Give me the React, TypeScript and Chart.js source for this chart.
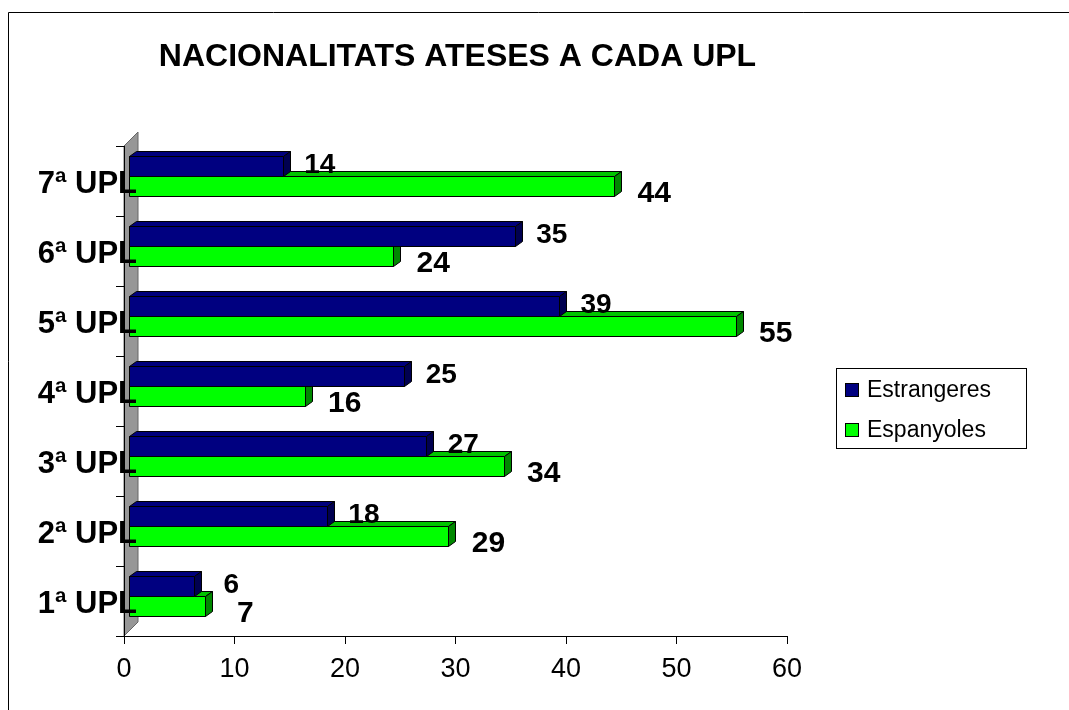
import React, { useEffect, useRef } from 'react';
import { Chart, registerables } from 'chart.js';

Chart.register(...registerables);

const TITLE = 'NACIONALITATS ATESES A CADA UPL';
const CATEGORIES = ['1ª UPL', '2ª UPL', '3ª UPL', '4ª UPL', '5ª UPL', '6ª UPL', '7ª UPL'];
const SERIES_NAMES = ['Estrangeres', 'Espanyoles'];
const ESTRANGERES = [6, 18, 27, 25, 39, 35, 14];
const ESPANYOLES = [7, 29, 34, 16, 55, 24, 44];
const X_MIN = 0;
const X_MAX = 60;
const X_STEP = 10;

const FONT = "'Liberation Sans', Arial, Helvetica, sans-serif";
const COLORS = [
  { front: '#000080', top: '#00007c', side: '#000050' },
  { front: '#00ff00', top: '#00c400', side: '#008800' },
];

const W = 1069;
const H = 710;
const DX = 7;
const DY = 5;
const SHIFT_X = 4;
const SHIFT_Y = -5;
const WALL = 14;

function poly(ctx: CanvasRenderingContext2D, pts: number[][], fill: string) {
  ctx.beginPath();
  ctx.moveTo(pts[0][0], pts[0][1]);
  for (let i = 1; i < pts.length; i++) ctx.lineTo(pts[i][0], pts[i][1]);
  ctx.closePath();
  ctx.fillStyle = fill;
  ctx.fill();
  ctx.stroke();
}

const threeDPlugin = {
  id: 'threeD',
  beforeDraw(chart: any) {
    const { ctx, chartArea: a } = chart;
    ctx.save();
    // outer frame
    ctx.strokeStyle = '#000';
    ctx.lineWidth = 1;
    ctx.beginPath();
    ctx.moveTo(8.5, H);
    ctx.lineTo(8.5, 12.5);
    ctx.lineTo(W, 12.5);
    ctx.stroke();
    // side wall
    ctx.strokeStyle = '#666';
    poly(
      ctx,
      [
        [a.left, a.bottom],
        [a.left, a.top],
        [a.left + WALL, a.top - WALL],
        [a.left + WALL, a.bottom - WALL],
      ],
      '#979797'
    );
    // title
    ctx.fillStyle = '#000';
    ctx.font = `bold 32px ${FONT}`;
    ctx.textAlign = 'center';
    ctx.textBaseline = 'alphabetic';
    ctx.fillText(TITLE, (a.left + a.right) / 2 + 2, 66);
    ctx.restore();
  },
  beforeDatasetDraw(chart: any, args: any) {
    const ctx = chart.ctx as CanvasRenderingContext2D;
    const c = COLORS[args.index];
    ctx.save();
    ctx.lineWidth = 1;
    ctx.strokeStyle = '#000';
    ctx.lineJoin = 'miter';
    args.meta.data.forEach((el: any) => {
      const p = el.getProps(['x', 'y', 'base', 'height'], true);
      const x0 = Math.round(Math.min(p.base, p.x) + SHIFT_X) + 0.5;
      const x1 = Math.round(Math.max(p.base, p.x) + SHIFT_X) + 0.5;
      const y0 = Math.round(p.y - p.height / 2 + SHIFT_Y) + 0.5;
      const y1 = Math.round(p.y + p.height / 2 + SHIFT_Y) + 0.5;
      poly(ctx, [[x0, y0], [x0 + DX, y0 - DY], [x1 + DX, y0 - DY], [x1, y0]], c.top);
      poly(ctx, [[x1, y0], [x1 + DX, y0 - DY], [x1 + DX, y1 - DY], [x1, y1]], c.side);
      poly(ctx, [[x0, y0], [x1, y0], [x1, y1], [x0, y1]], c.front);
    });
    ctx.restore();
    return false;
  },
  afterDatasetsDraw(chart: any) {
    const ctx = chart.ctx as CanvasRenderingContext2D;
    ctx.save();
    ctx.fillStyle = '#000';
    ctx.textAlign = 'center';
    ctx.textBaseline = 'alphabetic';
    chart.data.datasets.forEach((ds: any, i: number) => {
      const meta = chart.getDatasetMeta(i);
      ctx.font = i === 0 ? `bold 28px ${FONT}` : `bold 30px ${FONT}`;
      meta.data.forEach((el: any, j: number) => {
        const p = el.getProps(['x', 'y'], true);
        const dy = i === 0 ? 2 : 11;
        const dx = i === 0 ? 41 : 44;
        ctx.fillText(String(ds.data[j]), p.x + dx, p.y + dy);
      });
    });
    // category labels (drawn over the wall and bar edges, like the original)
    const yScale = chart.scales.y;
    ctx.font = `bold 31px ${FONT}`;
    ctx.textAlign = 'right';
    ctx.textBaseline = 'middle';
    chart.data.labels.forEach((lab: string, i: number) => {
      ctx.fillText(lab, yScale.right + 13, yScale.getPixelForTick(i) + 3);
    });
    // legend
    const lx = 836.5;
    const ly = 368.5;
    ctx.strokeStyle = '#000';
    ctx.lineWidth = 1;
    ctx.strokeRect(lx, ly, 190, 80);
    ctx.font = `23px ${FONT}`;
    ctx.textAlign = 'left';
    ctx.textBaseline = 'middle';
    chart.data.datasets.forEach((ds: any, i: number) => {
      const cy = 390 + i * 40;
      ctx.fillStyle = COLORS[i].front;
      ctx.fillRect(845.5, cy - 6.5, 13, 13);
      ctx.strokeRect(845.5, cy - 6.5, 13, 13);
      ctx.fillStyle = '#000';
      ctx.fillText(ds.label, 867, cy + 1);
    });
    ctx.restore();
  },
};

export default function App() {
  const ref = useRef<HTMLCanvasElement>(null);
  useEffect(() => {
    if (!ref.current) return;
    const chart = new Chart(ref.current, {
      type: 'bar',
      data: {
        labels: CATEGORIES,
        datasets: [
          { label: SERIES_NAMES[0], data: ESTRANGERES, backgroundColor: COLORS[0].front },
          { label: SERIES_NAMES[1], data: ESPANYOLES, backgroundColor: COLORS[1].front },
        ],
      },
      options: {
        indexAxis: 'y',
        responsive: false,
        animation: false,
        devicePixelRatio: 1,
        layout: { padding: { top: 146, right: 282, bottom: 0, left: 0 } },
        datasets: { bar: { categoryPercentage: 40 / 70, barPercentage: 1 } },
        plugins: {
          legend: { display: false },
          title: { display: false },
          tooltip: { enabled: false },
        },
        scales: {
          x: {
            type: 'linear',
            min: X_MIN,
            max: X_MAX,
            ticks: {
              stepSize: X_STEP,
              color: '#000',
              font: { family: FONT, size: 27 },
              padding: 9,
            },
            grid: { drawOnChartArea: false, drawTicks: true, tickLength: 8, color: '#000' },
            border: { display: true, color: '#000' },
            afterFit: (s: any) => {
              s.height = 74;
            },
          },
          y: {
            type: 'category',
            reverse: true,
            ticks: { display: false },
            grid: { drawOnChartArea: false, drawTicks: true, tickLength: 8, color: '#000', offset: true },
            border: { display: true, color: '#000' },
            afterFit: (s: any) => {
              s.width = 124;
            },
          },
        },
      },
      plugins: [threeDPlugin],
    } as any);
    return () => chart.destroy();
  }, []);
  return (
    <div style={{ position: 'absolute', left: 0, top: 0, width: W, height: H, background: '#fff' }}>
      <canvas ref={ref} width={W} height={H} style={{ display: 'block', width: W, height: H }} />
    </div>
  );
}
